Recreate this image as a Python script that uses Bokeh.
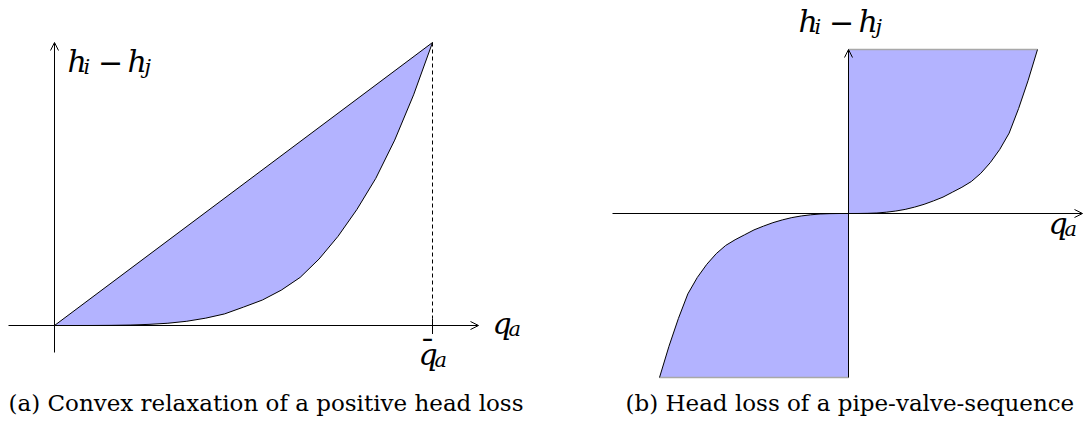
from bokeh.plotting import figure
from bokeh.layouts import row
from bokeh.models import Arrow, OpenHead, Range1d, Label
from bokeh.embed import file_html
from bokeh.resources import INLINE

# (a) head loss of a pipe over normalised flow q / q_bar (curve sampled along the plot)
flow_a = [0.00, 0.05, 0.10, 0.15, 0.20, 0.25, 0.30, 0.35, 0.40, 0.45, 0.50,
          0.55, 0.60, 0.65, 0.70, 0.75, 0.80, 0.85, 0.90, 0.95, 1.00]
loss_a = [0.000, 0.000, 0.0001, 0.0005, 0.0016, 0.004, 0.008, 0.015, 0.026, 0.041, 0.065,
          0.090, 0.125, 0.170, 0.235, 0.315, 0.410, 0.520, 0.655, 0.815, 1.000]

# (b) head loss of a pipe-valve sequence, positive branch (negative branch is odd-symmetric)
flow_b = [0.00, 0.05, 0.10, 0.15, 0.20, 0.25, 0.30, 0.35, 0.40, 0.45, 0.50,
          0.55, 0.60, 0.65, 0.70, 0.75, 0.80, 0.85, 0.90, 0.95, 1.00]
loss_b = [0.000, 0.0001, 0.001, 0.003, 0.008, 0.015, 0.025, 0.039, 0.056, 0.077, 0.100,
          0.130, 0.160, 0.195, 0.245, 0.310, 0.390, 0.490, 0.640, 0.810, 1.000]

caption_a = "(a) Convex relaxation of a positive head loss"
caption_b = "(b) Head loss of a pipe-valve-sequence"

# math italic letters
M_H, M_I, M_J, M_Q, M_A = "\u210e", "\U0001D456", "\U0001D457", "\U0001D45E", "\U0001D44E"

FILL = "#b3b3ff"
INK = "#000000"
MATH_FONT = "DejaVu Serif"
TEXT_FONT = "DejaVu Serif"
S = 30            # math font size (px)
SUB = 21          # subscript size (px)
H = 423


def panel(width, xr, yr):
    p = figure(width=width, height=H, x_range=Range1d(*xr), y_range=Range1d(*yr),
               output_backend="svg", toolbar_location=None, min_border=0,
               x_axis_location=None, y_axis_location=None)
    p.grid.visible = False
    p.outline_line_color = None
    p.background_fill_color = "white"
    p.border_fill_color = "white"
    return p


def put(p, x, y, txt, dx, dy, size, align="left"):
    # dx, dy: pixel offsets (dy positive = downwards)
    p.add_layout(Label(x=x, y=y, text=txt, x_offset=dx, y_offset=-dy,
                       text_font=MATH_FONT, text_font_size=f"{size}px",
                       text_font_style="normal", text_baseline="alphabetic",
                       text_align=align, text_color=INK))


def head_diff(p, x, y, dx, dy):
    # h_i - h_j
    put(p, x, y, M_H, dx, dy, S)
    put(p, x, y, M_I, dx + 16, dy + 5, SUB)
    put(p, x, y, "\u2212", dx + 43, dy, S, "center")
    put(p, x, y, M_H, dx + 60, dy, S)
    put(p, x, y, M_J, dx + 77, dy + 5, SUB)


def q_label(p, x, y, dx, dy, bar=False):
    put(p, x, y, M_Q, dx, dy, S)
    put(p, x, y, M_A, dx + 16, dy + 5, SUB)
    if bar:
        put(p, x, y, "\u00af", dx + 9, dy - 4, S, "center")


def axis_arrow(p, x0, y0, x1, y1):
    p.add_layout(Arrow(end=OpenHead(size=8, line_width=1, line_color=INK),
                       x_start=x0, y_start=y0, x_end=x1, y_end=y1,
                       line_width=1, line_color=INK))


# ---------------- panel (a) ----------------
pa = panel(545, (-54 / 378, 491 / 378), (-98 / 283, 325 / 283))
q_end, h_end = flow_a[-1], loss_a[-1]
pa.patch(flow_a, loss_a, fill_color=FILL, line_color=None)
pa.line([flow_a[0], q_end], [loss_a[0], h_end], line_color=INK, line_width=1)
pa.line(flow_a, loss_a, line_color=INK, line_width=1)
pa.segment(x0=[q_end], y0=[h_end], x1=[q_end], y1=[0.025], line_color=INK,
           line_width=1, line_dash="4 3")
pa.segment(x0=[q_end], y0=[0.025], x1=[q_end], y1=[-0.03], line_color=INK, line_width=1)
axis_arrow(pa, -46 / 378, 0, 1.1217, 0)
axis_arrow(pa, 0, -27 / 283, 0, 1.0)
head_diff(pa, 0, 1.0, 13, 19)
q_label(pa, 1.1217, 0, 14, -2)
q_label(pa, q_end, 0, -14, 29, bar=True)
pa.add_layout(Label(x=8, y=21, x_units="screen", y_units="screen", text=caption_a,
                    text_font=TEXT_FONT, text_font_size="23px", text_color=INK,
                    text_baseline="alphabetic"))

# ---------------- panel (b) ----------------
pb = panel(544, (-303 / 189, 241 / 189), (-210 / 164, 213 / 164))
neg_flow = [-v for v in flow_b]
neg_loss = [-v for v in loss_b]
top = max(loss_b)
# upper region: left of the curve, between the axis and the top level
pb.patch([0] + flow_b + [0], [0] + loss_b + [top], fill_color=FILL, line_color=None)
pb.patch([0] + neg_flow + [0], [0] + neg_loss + [-top], fill_color=FILL, line_color=None)
pb.segment(x0=[0, 0], y0=[top, -top], x1=[flow_b[-1], neg_flow[-1]], y1=[top, -top],
           line_color="#a8a8a8", line_width=1.5)
pb.line(flow_b, loss_b, line_color=INK, line_width=1)
pb.line(neg_flow, neg_loss, line_color=INK, line_width=1)
axis_arrow(pb, -236 / 189, 0, 234 / 189, 0)
axis_arrow(pb, 0, -top, 0, top)
head_diff(pb, 0, top, -50, -28)
q_label(pb, 234 / 189, 0, -34, 10)
pb.add_layout(Label(x=80, y=21, x_units="screen", y_units="screen", text=caption_b,
                    text_font=TEXT_FONT, text_font_size="23px", text_color=INK,
                    text_baseline="alphabetic"))

layout = row(pa, pb)
open("out.html", "w").write(file_html(layout, INLINE))
